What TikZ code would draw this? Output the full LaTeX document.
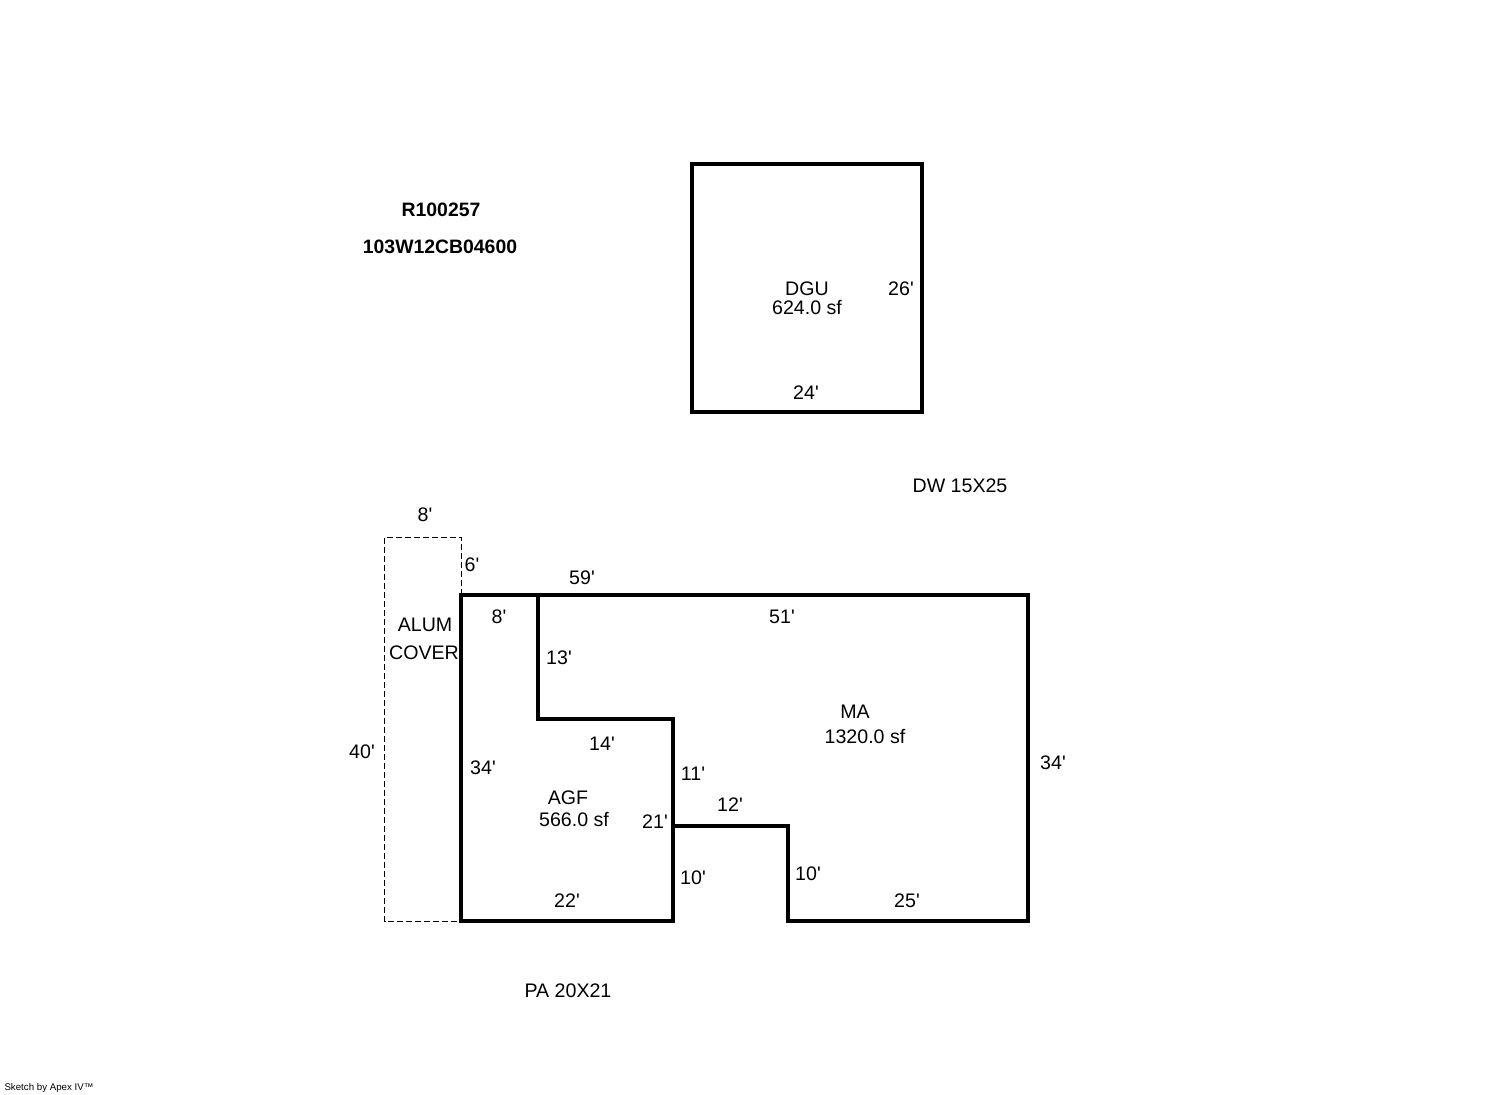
\documentclass[tikz,border=0pt]{standalone}
\usepackage{fontspec}
\setmainfont[Ligatures=TeXOff]{Liberation Sans}
\tikzset{
  wall/.style={line width=2pt,line join=miter},
  inner wall/.style={line width=1.6pt,line join=miter,line cap=square},
  cover/.style={line width=0.5pt,dash pattern=on 3pt off 1.5pt},
  lbl/.style={inner sep=0pt,yshift=-0.3pt,font=\fontsize{9.8}{11}\selectfont},
  idlbl/.style={inner sep=0pt,yshift=-0.3pt,font=\fontsize{9.7}{11}\selectfont\bfseries},
}
\begin{document}
\begin{tikzpicture}[x=0.5pt,y=-0.5pt]
      \useasboundingbox (0,0) rectangle (1492,1094);

      %% walls
      % DGU
      \draw[wall] (692,164) rectangle (922,412);
      % alum cover
      \draw[cover] (461,595) -- (461,537) -- (384.5,537) -- (384.5,921) -- (461,921);
      % MA
      \draw[wall] (538,595) -- (1028,595) -- (1028,921) -- (788,921) -- (788,824.4);
      % AGF
      \draw[wall] (538,595) -- (461,595) -- (461,921) -- (673,921) -- (673,826);
      \draw[inner wall] (538,595) -- (538,719) -- (673,719) -- (673,826) -- (788,826);

      %% ids
      \node[idlbl] (idr) at (441,209) {R100257};
      \node[idlbl] (idw) at (440,246) {103W12CB04600};

      %% areas
      \node[lbl] (dgu) at (807,288) {DGU};
      \node[lbl] (dgusf) at (807,307) {624.0 sf};
      \node[lbl] (ma) at (855,711) {MA};
      \node[lbl] (masf) at (865,736) {1320.0 sf};
      \node[lbl] (agf) at (568,797) {AGF};
      \node[lbl] (agfsf) at (574,819) {566.0 sf};
      \node[lbl] (alum) at (425,624) {ALUM};
      \node[lbl] (alumcov) at (424,652) {COVER};
      \node[lbl] (dw) at (960,485) {DW 15X25};
      \node[lbl] (pa) at (568,990) {PA 20X21};

      %% lengths
      \node[lbl] (l26) at (901,288) {26'};
      \node[lbl] (l24) at (806,392) {24'};
      \node[lbl] (l8a) at (425,514) {8'};
      \node[lbl] (l6) at (472,564) {6'};
      \node[lbl] (l59) at (582,577) {59'};
      \node[lbl] (l8b) at (499,616) {8'};
      \node[lbl] (l51) at (782,616) {51'};
      \node[lbl] (l13) at (559,657) {13'};
      \node[lbl] (l14) at (602,743) {14'};
      \node[lbl] (l40) at (362,751) {40'};
      \node[lbl] (l34a) at (483,767) {34'};
      \node[lbl] (l34b) at (1053,762) {34'};
      \node[lbl] (l11) at (693,773) {11'};
      \node[lbl] (l12) at (730,804) {12'};
      \node[lbl] (l21) at (655,821) {21'};
      \node[lbl] (l10a) at (693,877) {10'};
      \node[lbl] (l10b) at (808,873) {10'};
      \node[lbl] (l22) at (567,900) {22'};
      \node[lbl] (l25) at (907,900) {25'};

      %% stamp
      \node[inner sep=0pt,font=\fontsize{4.85}{5}\selectfont] (stamp) at (49,1088) {Sketch by Apex IV\texttrademark};
\end{tikzpicture}
\end{document}
